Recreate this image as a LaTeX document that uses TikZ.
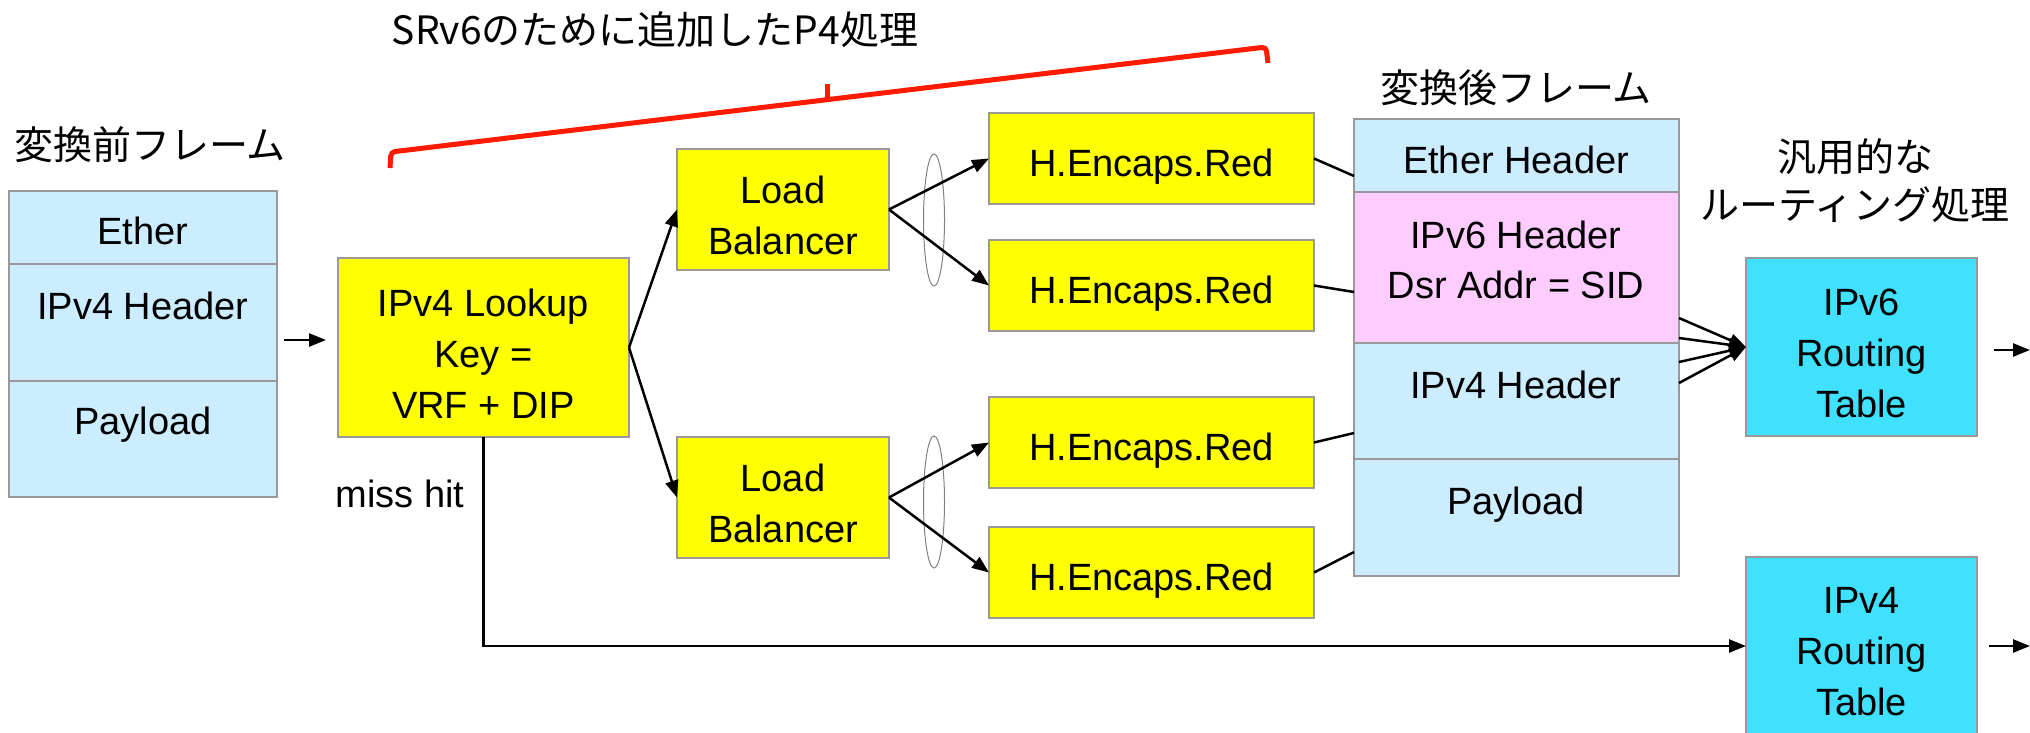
\documentclass[tikz,border=0pt]{standalone}
\usepackage{fontspec}
\setmainfont{Liberation Sans}
\newfontfamily\jp{Noto Sans CJK JP}
\usetikzlibrary{arrows.meta,shapes.geometric}
\definecolor{fblue}{HTML}{CCECFF}
\definecolor{fpink}{HTML}{FFCCFF}
\definecolor{fyel}{HTML}{FFFF00}
\definecolor{fcyan}{HTML}{40E0FF}
\definecolor{bgray}{HTML}{999999}
\definecolor{bred}{HTML}{FF1A00}
\begin{document}
\begin{tikzpicture}[x=1pt,y=-1pt,
  txt/.style={font=\fontsize{38pt}{51pt}\selectfont, align=center, inner sep=0pt},
  jtxt/.style={font=\jp\fontsize{39pt}{48pt}\selectfont, align=center, inner sep=0pt},
  box/.style={draw=bgray, line width=1.5pt, inner sep=0pt, outer sep=0pt, anchor=north west},
  intxt/.style={txt, yshift=-6pt},
  fbox/.style={box, fill=fblue},
  pbox/.style={box, fill=fpink},
  ybox/.style={box, fill=fyel},
  cbox/.style={box, fill=fcyan},
  conn/.style={line width=2.5pt, -{Triangle[length=17pt,width=13pt]}},
  link/.style={line width=2.5pt},
  ell/.style={draw=gray, line width=1pt, ellipse, minimum width=21pt, minimum height=132pt, inner sep=0pt}
]
\useasboundingbox (0,0) rectangle (2030,732);

% left frame
\node[jtxt] (tpre) at (150,145) {変換前フレーム};
\node[fbox, minimum width=268pt, minimum height=73pt] (lEth) at (9,191) {};
\node[fbox, minimum width=268pt, minimum height=117pt] (lIP) at (9,264) {};
\node[fbox, minimum width=268pt, minimum height=116pt] (lPay) at (9,381) {};
\node[txt, anchor=base] (tlEth) at (143,244) {Ether};
\node[txt, anchor=base] (tlIP) at (143,319) {IPv4 Header};
\node[txt, anchor=base] (tlPay) at (143,434) {Payload};

% processing boxes
\node[ybox, minimum width=291pt, minimum height=179pt] (look) at (338,258) {};
\node[ybox, minimum width=212pt, minimum height=121pt] (lb1) at (677,149) {};
\node[ybox, minimum width=212pt, minimum height=121pt] (lb2) at (677,437) {};
\node[ybox, minimum width=325pt, minimum height=91pt] (he1) at (989,113) {};
\node[ybox, minimum width=325pt, minimum height=91pt] (he2) at (989,240) {};
\node[ybox, minimum width=325pt, minimum height=91pt] (he3) at (989,397) {};
\node[ybox, minimum width=325pt, minimum height=91pt] (he4) at (989,527) {};
\node[intxt] (tlook) at (look.center) {IPv4 Lookup\\Key =\\VRF + DIP};
\node[intxt] (tlb1) at (lb1.center) {Load\\Balancer};
\node[intxt] (tlb2) at (lb2.center) {Load\\Balancer};
\node[intxt, yshift=-2pt] (the1) at (he1.center) {H.Encaps.Red};
\node[intxt, yshift=-2pt] (the2) at (he2.center) {H.Encaps.Red};
\node[intxt, yshift=-2pt] (the3) at (he3.center) {H.Encaps.Red};
\node[intxt, yshift=-2pt] (the4) at (he4.center) {H.Encaps.Red};
\node[ell] (el1) at (934,220) {};
\node[ell] (el2) at (934,502) {};
\node[txt, anchor=base] (tmiss) at (400,507) {miss hit};

% right frame
\node[jtxt] (tpost) at (1516,88) {変換後フレーム};
\node[fbox, minimum width=325pt, minimum height=73pt] (rEth) at (1354,119) {};
\node[pbox, minimum width=325pt, minimum height=151pt] (rIP6) at (1354,192) {};
\node[fbox, minimum width=325pt, minimum height=116pt] (rIP4) at (1354,343) {};
\node[fbox, minimum width=325pt, minimum height=117pt] (rPay) at (1354,459) {};
\node[txt, anchor=base] (trEth) at (1516,173) {Ether Header};
\node[txt, anchor=base] (trIP6a) at (1516,248) {IPv6 Header};
\node[txt, anchor=base] (trIP6b) at (1516,298) {Dsr Addr = SID};
\node[txt, anchor=base] (trIP4) at (1516,398) {IPv4 Header};
\node[txt, anchor=base] (trPay) at (1516,514) {Payload};

% routing tables
\node[jtxt] (tgen) at (1855,181) {汎用的な\\ルーティング処理};
\node[cbox, minimum width=231pt, minimum height=178pt] (rt6) at (1746,258) {};
\node[cbox, minimum width=231pt, minimum height=178pt] (rt4) at (1746,557) {};
\node[intxt] (trt6) at (rt6.center) {IPv6\\Routing\\Table};
\node[intxt] (trt4) at (rt4.center) {IPv4\\Routing\\Table};

% red bracket and title
\node[jtxt] (tsrv6) at (655,30) {SRv6のために追加したP4処理};
\draw[bred, line width=5pt, rounded corners=4pt] (390,168) -- (391,152) -- (1266,47) -- (1268,63);
\draw[bred, line width=5pt] (827,100) -- (827,84);

% coordinates
\coordinate (a1s) at (284,340);
\coordinate (a1e) at (326,340);
\coordinate (c1) at (1354,176);
\coordinate (c2) at (1354,292);
\coordinate (c3) at (1354,433);
\coordinate (c4) at (1354,552);
\coordinate (d1) at (1679,318);
\coordinate (d2) at (1679,338);
\coordinate (d3) at (1679,362);
\coordinate (d4) at (1679,383);
\coordinate (o6s) at (1994,350);
\coordinate (o6e) at (2030,350);
\coordinate (o4s) at (1989,646);
\coordinate (o4e) at (2030,646);

% connectors
\draw[conn] (a1s) -- (a1e);
\draw[conn] (look.east) -- (lb1.west);
\draw[conn] (look.east) -- (lb2.west);
\draw[conn] (lb1.east) -- (he1.west);
\draw[conn] (lb1.east) -- (he2.west);
\draw[conn] (lb2.east) -- (he3.west);
\draw[conn] (lb2.east) -- (he4.west);
\draw[link] (he1.east) -- (c1);
\draw[link] (he2.east) -- (c2);
\draw[link] (he3.east) -- (c3);
\draw[link] (he4.east) -- (c4);
\draw[conn] (d1) -- (rt6.west);
\draw[conn] (d2) -- (rt6.west);
\draw[conn] (d3) -- (rt6.west);
\draw[conn] (d4) -- (rt6.west);
\draw[conn] (look.south) |- (rt4.west);
\draw[conn] (o6s) -- (o6e);
\draw[conn] (o4s) -- (o4e);
\end{tikzpicture}
\end{document}
